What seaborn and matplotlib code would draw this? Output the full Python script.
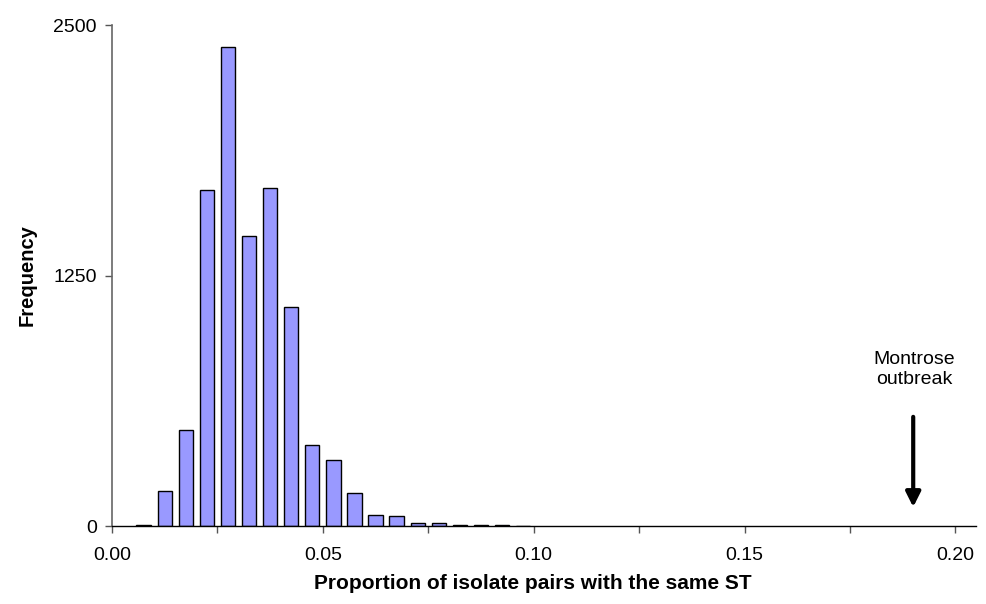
import matplotlib
matplotlib.use("Agg")
import matplotlib.pyplot as plt
import seaborn as sns
import pandas as pd
from matplotlib.ticker import MultipleLocator, FormatStrFormatter

bin_centers = [0.0075, 0.0125, 0.0175, 0.0225, 0.0275, 0.0325, 0.0375, 0.0425,
               0.0475, 0.0525, 0.0575, 0.0625, 0.0675, 0.0725, 0.0775, 0.0825,
               0.0875, 0.0925, 0.0975]
frequency = [6, 175, 479, 1675, 2392, 1447, 1689, 1095,
             406, 328, 163, 56, 48, 15, 14, 6,
             3, 3, 2]
outbreak_value = 0.19
annotation_text = "Montrose\noutbreak"

df = pd.DataFrame({"prop": bin_centers, "freq": frequency})

sns.set_theme(style="white")
plt.rcParams['font.family'] = ['Liberation Sans', 'DejaVu Sans']
plt.rcParams['text.color'] = 'black'
plt.rcParams['axes.labelcolor'] = 'black'

fig = plt.figure(figsize=(9.87, 6.04), dpi=100)
ax = fig.add_axes([0.1135, 0.129, 0.8754, 0.8296])

sns.barplot(data=df, x="prop", y="freq", native_scale=True, width=0.68,
            color="#9999FF", saturation=1, edgecolor="black", linewidth=1.0, ax=ax)

ax.set_xlim(0, 0.2049)
ax.set_ylim(0, 2500)
ax.xaxis.set_major_locator(MultipleLocator(0.05))
ax.xaxis.set_minor_locator(MultipleLocator(0.025))
ax.xaxis.set_major_formatter(FormatStrFormatter("%.2f"))
ax.set_yticks([0, 1250, 2500])

for s in ["top", "right"]:
    ax.spines[s].set_visible(False)
ax.spines["left"].set_color("#666666")
ax.spines["left"].set_linewidth(1.2)
ax.spines["bottom"].set_color("black")
ax.spines["bottom"].set_linewidth(1.0)

ax.tick_params(axis="both", which="both", direction="out", length=5, width=1,
               color="#555555", labelsize=14, labelcolor="black")
ax.tick_params(axis="x", which="both", bottom=True, pad=10)
ax.tick_params(axis="y", left=True, pad=6)

ax.set_xlabel("Proportion of isolate pairs with the same ST", fontsize=15,
              fontweight="bold", color="black")
ax.xaxis.set_label_coords(0.487, -0.095)
ax.set_ylabel("Frequency", fontsize=14.5, fontweight="bold", labelpad=12,
              color="black")

ax.annotate("", xy=(outbreak_value, 95), xytext=(outbreak_value, 545),
            arrowprops=dict(arrowstyle="-|>", color="black", lw=3,
                            mutation_scale=22, shrinkA=0, shrinkB=0))
ax.text(outbreak_value + 0.0003, 690, annotation_text, ha="center", va="bottom",
        fontsize=14, linespacing=1.25, color="black")

fig.savefig("out.png", dpi=100)
